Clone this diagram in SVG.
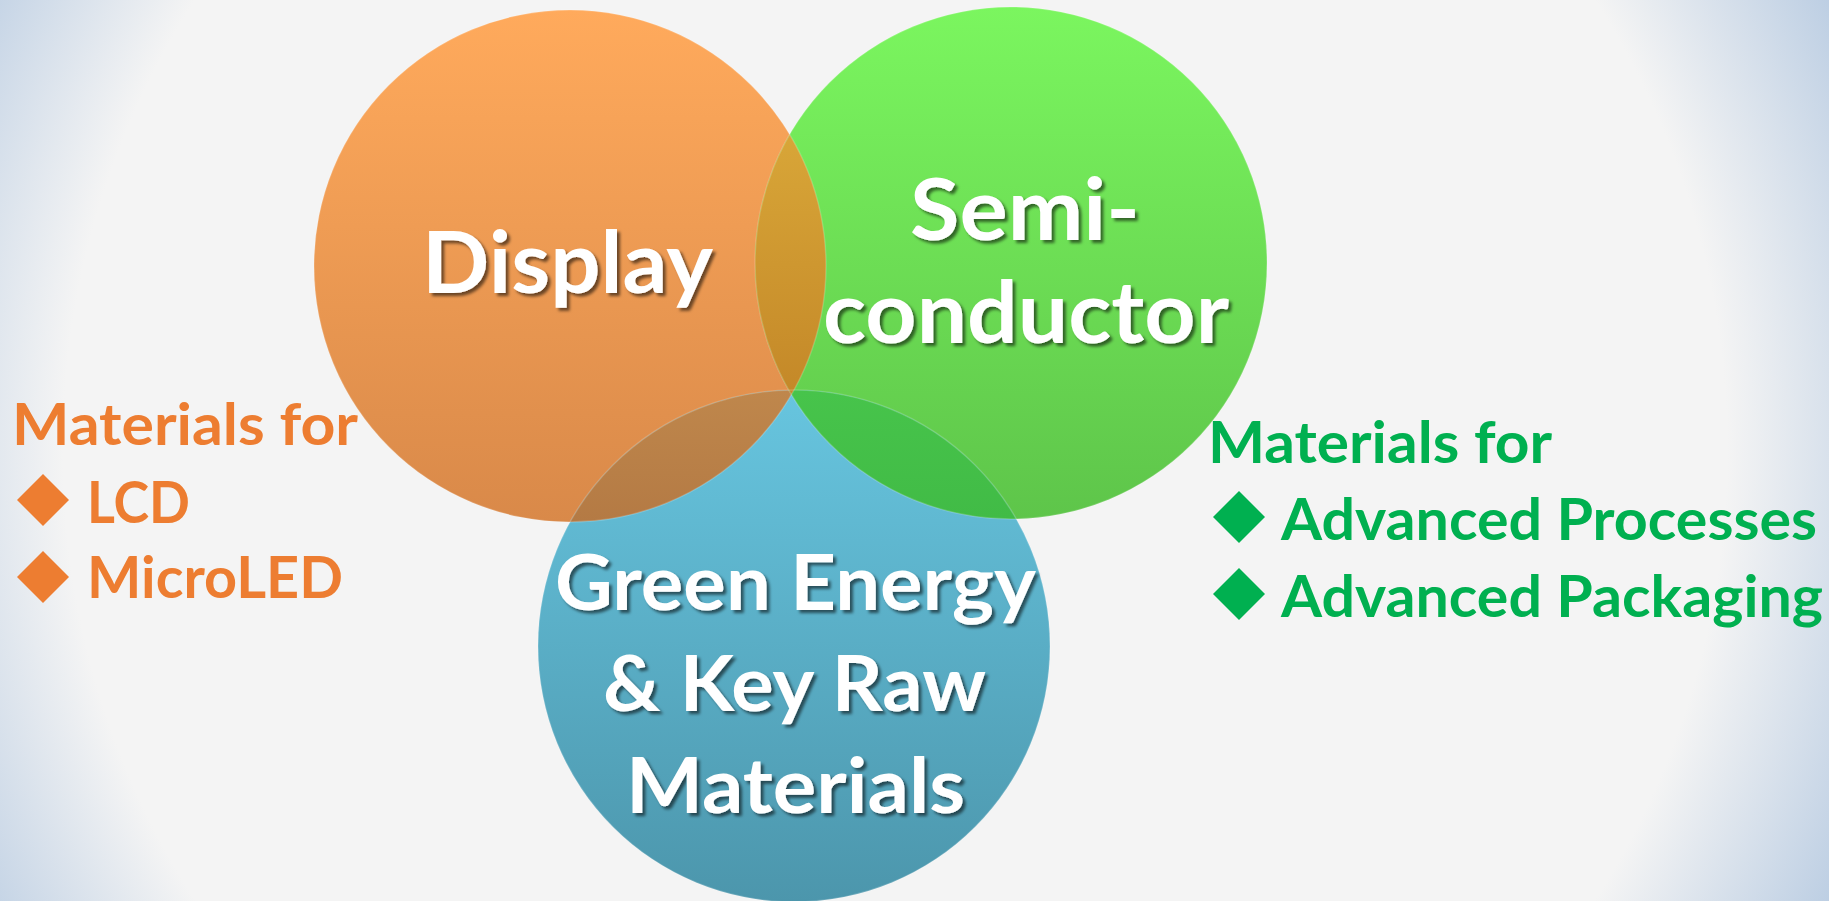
<svg xmlns="http://www.w3.org/2000/svg" width="1829" height="901" viewBox="0 0 1829 901">
  <defs>
    <style>
      .big { font-family: "Lato", "Open Sans", "Liberation Sans", sans-serif; font-weight: 700; fill: #ffffff; filter: url(#shadow); }
      .list { font-family: "Lato", "Open Sans", "Liberation Sans", sans-serif; font-weight: 700; }
      .orange { fill: #ED7D31; }
      .green { fill: #00B050; }
      .rim { fill: none; stroke: #ffffff; stroke-opacity: 0.18; stroke-width: 1.5; }
    </style>
    <radialGradient id="bg" gradientUnits="userSpaceOnUse" cx="895" cy="450" r="1040">
      <stop offset="0" stop-color="#F4F4F4"/>
      <stop offset="0.80" stop-color="#F4F4F4"/>
      <stop offset="1" stop-color="#BCCEE3"/>
    </radialGradient>
    <linearGradient id="gO" gradientUnits="userSpaceOnUse" x1="0" y1="10" x2="0" y2="522">
      <stop offset="0" stop-color="#FFAA5C"/>
      <stop offset="1" stop-color="#D98949"/>
    </linearGradient>
    <linearGradient id="gG" gradientUnits="userSpaceOnUse" x1="0" y1="7" x2="0" y2="519">
      <stop offset="0" stop-color="#7BF65F"/>
      <stop offset="1" stop-color="#5EC54A"/>
    </linearGradient>
    <linearGradient id="gB" gradientUnits="userSpaceOnUse" x1="0" y1="390" x2="0" y2="902">
      <stop offset="0" stop-color="#67C5DF"/>
      <stop offset="1" stop-color="#4C96AC"/>
    </linearGradient>
    <linearGradient id="gOG" gradientUnits="userSpaceOnUse" x1="0" y1="134" x2="0" y2="395">
      <stop offset="0" stop-color="#D8A638"/>
      <stop offset="1" stop-color="#C48828"/>
    </linearGradient>
    <linearGradient id="gOB" gradientUnits="userSpaceOnUse" x1="0" y1="390" x2="0" y2="522">
      <stop offset="0" stop-color="#BF874C"/>
      <stop offset="1" stop-color="#B47A44"/>
    </linearGradient>
    <linearGradient id="gGB" gradientUnits="userSpaceOnUse" x1="0" y1="390" x2="0" y2="519">
      <stop offset="0" stop-color="#47C44B"/>
      <stop offset="1" stop-color="#41BB46"/>
    </linearGradient>
    <clipPath id="clipO"><circle cx="570" cy="266" r="256"/></clipPath>
    <clipPath id="clipG"><circle cx="1011" cy="263" r="256"/></clipPath>
    <filter id="shadow" x="-10%" y="-20%" width="130%" height="150%">
      <feDropShadow dx="3" dy="3" stdDeviation="1.4" flood-color="#000000" flood-opacity="0.55"/>
    </filter>
    <polygon id="diamond" points="0,-26 26,0 0,26 -26,0"/>
  </defs>

  <!-- backdrop -->
  <rect width="1829" height="901" fill="url(#bg)"/>

  <!-- Venn circles -->
  <g id="venn">
    <circle id="circle-display" cx="570" cy="266" r="256" fill="url(#gO)"/>
    <circle id="circle-semiconductor" cx="1011" cy="263" r="256" fill="url(#gG)"/>
    <circle id="circle-green-energy" cx="794" cy="646" r="256" fill="url(#gB)"/>
    <!-- overlap lenses -->
    <circle cx="794" cy="646" r="256" fill="url(#gOB)" clip-path="url(#clipO)"/>
    <circle cx="794" cy="646" r="256" fill="url(#gGB)" clip-path="url(#clipG)"/>
    <circle cx="1011" cy="263" r="256" fill="url(#gOG)" clip-path="url(#clipO)"/>
    <!-- soft light rims -->
    <circle class="rim" cx="570" cy="266" r="256"/>
    <circle class="rim" cx="1011" cy="263" r="256"/>
    <circle class="rim" cx="794" cy="646" r="256"/>
  </g>

  <g id="node-display">
    <text class="big" x="422" y="293" font-size="86" textLength="291" lengthAdjust="spacingAndGlyphs">Display</text>
  </g>

  <g id="node-semiconductor">
    <text class="big" x="910" y="240" font-size="87" textLength="230" lengthAdjust="spacingAndGlyphs">Semi-</text>
    <text class="big" x="823" y="343" font-size="87" textLength="406" lengthAdjust="spacingAndGlyphs">conductor</text>
  </g>

  <g id="node-green-energy">
    <text class="big" x="555" y="610" font-size="76" textLength="481" lengthAdjust="spacingAndGlyphs">Green Energy</text>
    <text class="big" x="603" y="711" font-size="76" textLength="383" lengthAdjust="spacingAndGlyphs">&amp; Key Raw</text>
    <text class="big" x="626" y="813" font-size="76" textLength="339" lengthAdjust="spacingAndGlyphs">Materials</text>
  </g>

  <g id="list-display" class="orange">
    <text class="list" x="12" y="445" font-size="57" textLength="346" lengthAdjust="spacingAndGlyphs">Materials for</text>
    <use href="#diamond" x="43" y="500"/>
    <text class="list" x="87" y="523" font-size="57" textLength="103" lengthAdjust="spacingAndGlyphs">LCD</text>
    <use href="#diamond" x="43" y="577"/>
    <text class="list" x="87" y="598" font-size="57" textLength="256" lengthAdjust="spacingAndGlyphs">MicroLED</text>
  </g>

  <g id="list-semiconductor" class="green">
    <text class="list" x="1208" y="463" font-size="57" textLength="344" lengthAdjust="spacingAndGlyphs">Materials for</text>
    <use href="#diamond" x="1239" y="517"/>
    <text class="list" x="1281" y="540" font-size="57" textLength="536" lengthAdjust="spacingAndGlyphs">Advanced Processes</text>
    <use href="#diamond" x="1239" y="594"/>
    <text class="list" x="1281" y="617" font-size="57" textLength="542" lengthAdjust="spacingAndGlyphs">Advanced Packaging</text>
  </g>
</svg>
